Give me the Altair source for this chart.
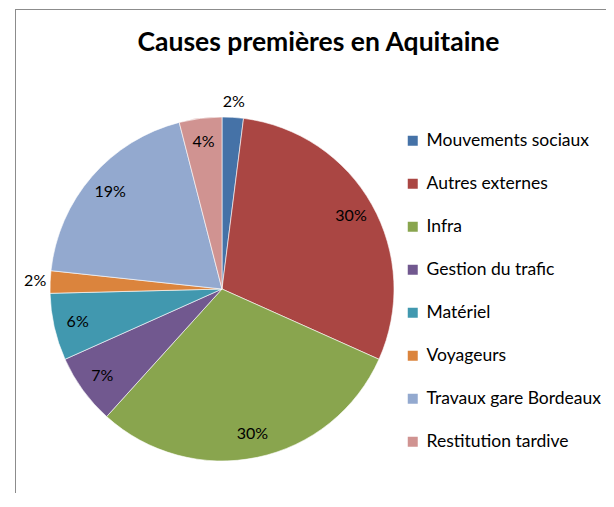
import altair as alt
import pandas as pd

categories = ["Mouvements sociaux", "Autres externes", "Infra", "Gestion du trafic",
              "Matériel", "Voyageurs", "Travaux gare Bordeaux", "Restitution tardive"]
values = [2.0, 29.7, 30.0, 6.6, 6.3, 2.1, 19.3, 4.0]
labels = ["2%", "30%", "30%", "7%", "6%", "2%", "19%", "4%"]
colors = ["#4572A7", "#AA4643", "#89A54E", "#71588F", "#4198AF", "#DB843D", "#93A9CF", "#D09391"]
outside_labels = ["Mouvements sociaux", "Voyageurs"]

df = pd.DataFrame({"cause": categories, "value": values, "label": labels,
                   "idx": list(range(len(categories)))})

W, H = 591, 484
CX, CY, R = 207, 280, 172
FONT = "Lato"

pie = alt.Chart(df).mark_arc(radius=R, stroke="white", strokeWidth=0.6, x=CX, y=CY).encode(
    theta=alt.Theta("value:Q", stack=True),
    order=alt.Order("idx:Q", sort="ascending"),
    color=alt.Color("cause:N",
                    scale=alt.Scale(domain=categories, range=colors),
                    sort=categories,
                    legend=alt.Legend(title=None, orient="none", legendX=389, legendY=123,
                                      symbolType="square", symbolSize=100,
                                      symbolStrokeWidth=0, labelFont=FONT,
                                      labelFontSize=17.5, labelColor="#000000",
                                      labelLimit=400,
                                      rowPadding=24, labelOffset=5, padding=0)),
)

label_base = alt.Chart(df).transform_window(
    cum="sum(value)", sort=[alt.SortField("idx", order="ascending")],
    frame=[None, 0]
).transform_calculate(mid="datum.cum - datum.value / 2")

inside = label_base.mark_text(radius=148, x=CX, y=CY, font=FONT, fontSize=16,
                              color="#000000").encode(
    theta=alt.Theta("mid:Q", stack=None), text="label:N").transform_filter(
    ~alt.FieldOneOfPredicate(field="cause", oneOf=outside_labels))

outside = label_base.mark_text(radius=187, x=CX, y=CY, font=FONT, fontSize=16,
                               color="#000000").encode(
    theta=alt.Theta("mid:Q", stack=None), text="label:N").transform_filter(
    alt.FieldOneOfPredicate(field="cause", oneOf=outside_labels))

border_left = alt.Chart(df).mark_rule(color="#8C8C8C", strokeWidth=1).encode(
    x=alt.value(0.5), y=alt.value(0), y2=alt.value(H))
border_top = alt.Chart(df).mark_rule(color="#8C8C8C", strokeWidth=1).encode(
    x=alt.value(0), x2=alt.value(W), y=alt.value(0.5))

chart = alt.layer(pie, inside, outside, border_left, border_top).properties(
    width=W, height=H,
    title=alt.TitleParams("Causes premières en Aquitaine", font=FONT, fontSize=26.5,
                          fontWeight="bold", color="#000000", anchor="middle",
                          offset=-48, dx=8),
    autosize=alt.AutoSizeParams(type="none"),
    padding={"left": 7, "top": 1, "right": 0, "bottom": 0},
).configure(background="white").configure_view(stroke="transparent", strokeWidth=0)

chart.save("out.html", embed_options={"renderer": "svg", "actions": False})
